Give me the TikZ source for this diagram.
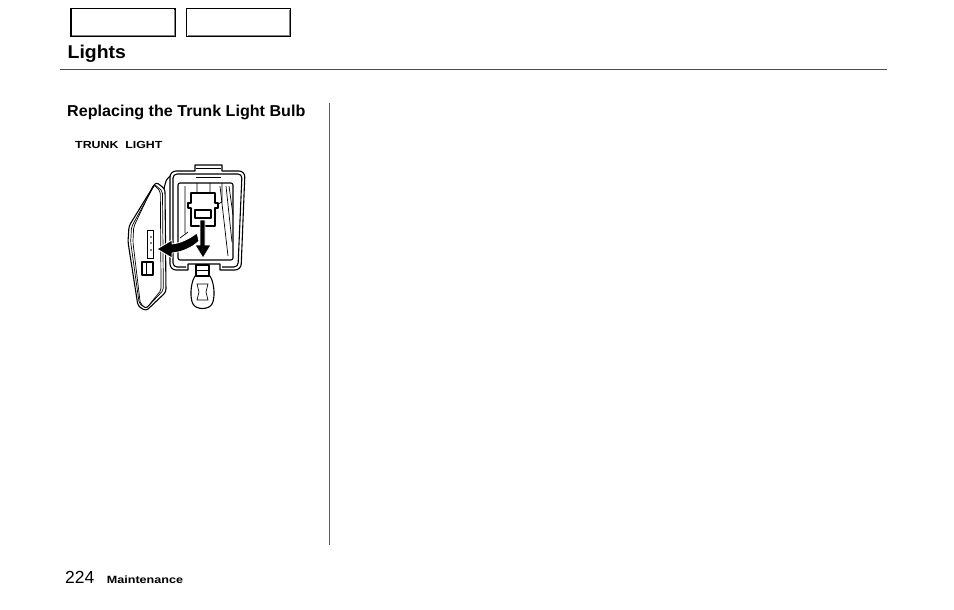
\documentclass[tikz,border=0pt]{standalone}
\usepackage{graphicx}
\usepackage{fontspec}
\setmainfont{Liberation Sans}
\newcommand\navbox[2]{\node[navbtn] (#1) at (#2,22.5) {};
  \draw[gray] ([xshift=2pt,yshift=2pt]#1.south west) -- ([xshift=-2pt,yshift=2pt]#1.south east) -- ([xshift=-2pt,yshift=-2pt]#1.north east);}
\newcommand\wide[1]{\scalebox{1.2}[1]{#1}}

\begin{document}
\begin{tikzpicture}[x=1pt,y=-1pt,
  navbtn/.style={draw, line width=1.6pt, minimum width=104pt, minimum height=28pt, inner sep=0pt},
  txt/.style={anchor=base west, inner sep=0pt},
  ink/.style={line width=1.1pt, line join=round},
  thin/.style={line width=0.7pt},
  bigarrow/.style={fill=black, draw=white, line width=0.8pt, line join=round}]
\useasboundingbox (0,0) rectangle (954,610);
\fill[white] (0,0) rectangle (954,610);
% page header
\navbox{prevbtn}{123}
\navbox{nextbtn}{238.5}
\node[txt, font=\fontsize{18.5}{20}\bfseries] (title) at (67.5,58.5) {\scalebox{1.05}[1]{Lights}};
\coordinate (rule-l) at (60,70);
\coordinate (rule-r) at (887,70);
\draw[gray!60!black, line width=1pt] (rule-l) -- (rule-r);
% left column
\node[txt, font=\fontsize{15.8}{18}\bfseries] (subtitle) at (67,117) {\scalebox{1.02}[1]{Replacing the Trunk Light Bulb}};
\node[txt, font=\fontsize{10.3}{12}\bfseries] (caption) at (75,148.5) {\wide{TRUNK\ \ LIGHT}};
\coordinate (col-top) at (329,103);
\coordinate (col-bot) at (329,545);
\draw[gray!70!black, line width=0.8pt] (col-top) -- (col-bot);
% footer
\node[txt, font=\fontsize{17.5}{20}\selectfont] (pagenum) at (65,583) {224};
\node[txt, font=\fontsize{10.5}{12}\bfseries] (chapter) at ([xshift=12pt]pagenum.base east) {\wide{Maintenance}};
% trunk light: housing
\draw[ink] (188,264) -- (220,264) -- (220,270) [rounded corners=6pt] -- (241,270) -- (245,171) [sharp corners] -- (222,171) -- (222,165) -- (195,165) -- (195,171) [rounded corners=6pt] -- (170,171) -- (170,270) [sharp corners] -- (188,270) -- cycle;
\draw[ink, rounded corners=4pt] (186,267) -- (173,267) -- (173,174) -- (242,174) -- (238,267) -- (222,267);
\draw[thin] (196,168) -- (221,168) (196,177) -- (221,177);
\draw[ink, rounded corners=2pt] (178,183) rectangle (233,260);
% inner details
\draw[thin] (220,186) -- (228,256) (226,186) -- (232,242) (229,186) -- (233,215);
\draw[thin] (185,186) -- (185,233) (180,238) -- (188,232);
\draw[thin] (197,183) -- (197,193) (210,183) -- (210,193) (222,183) -- (222,202) -- (218,204);
\draw[ink] (191,193) -- (215,193) -- (215,203) -- (218,203) -- (218,208) -- (215,208) -- (215,226) -- (191,226) -- (191,208) -- (188,208) -- (188,203) -- (191,203) -- cycle;
\draw[ink] (195,210) rectangle (211,218);
% bulb
\draw[ink] (196,265) -- (209,265) -- (209,276) -- (196,276) -- cycle;
\draw[thin] (196,270) -- (209,270);
\draw[ink] (195,276) .. controls (190,284) and (190,299) .. (193,304) .. controls (196,310) and (209,310) .. (212,304) .. controls (215,299) and (215,284) .. (210,276) -- cycle;
\draw[thin] (197,284) -- (199,292) -- (197,300) -- (208,300) -- (206,292) -- (208,284) -- cycle;
% open lens
\draw[ink, rounded corners=3pt] (156,182) -- (165,189) -- (166,292) -- (146,311) -- (138,306) -- (128,242) -- (129,226) -- cycle;
\foreach \s in {0.86,0.74}
  \draw[thin, rounded corners=2pt, shift={(147,247)}, xscale=\s, yscale=0.96, shift={(-147,-247)}] (156,182) -- (165,189) -- (166,292) -- (146,311) -- (138,306) -- (128,242) -- (129,226) -- cycle;
\draw[ink] (164,189) .. controls (166,180) .. (170,176);
\draw[thin] (147,230) rectangle (153,258);
\foreach \y in {237,243,250}
  \fill (151,\y) circle (0.9);
\draw[ink] (142,262) rectangle (153,275);
\draw[thin] (146,262) -- (146,275);
% arrows
\draw[bigarrow] (200,220) -- (205,220) -- (205,245) -- (211,245) -- (203,258) -- (195,245) -- (200,245) -- cycle;
\draw[bigarrow] (197,233) .. controls (186,241) and (179,243) .. (172,244) -- (172,240) -- (157,249) -- (172,258) -- (172,253) .. controls (183,252) and (193,247) .. (199,241) -- cycle;
\end{tikzpicture}
\end{document}
